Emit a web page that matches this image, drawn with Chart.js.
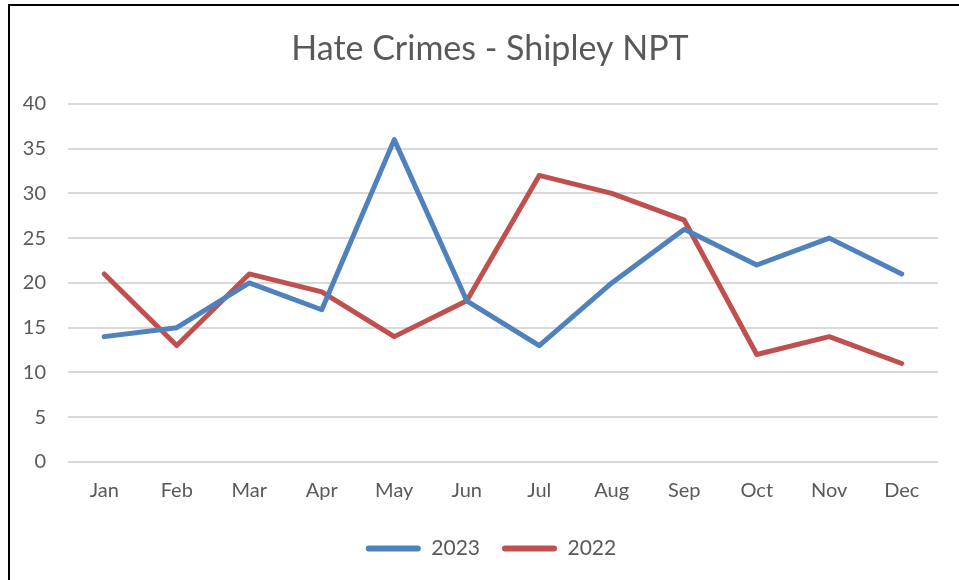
<!DOCTYPE html>
<html>
<head>
<meta charset="utf-8">
<script src="https://cdn.jsdelivr.net/npm/chart.js@4/dist/chart.umd.min.js"></script>
<style>
  html, body { margin: 0; padding: 0; background: #fff; }
  #frame { position: absolute; left: 8px; top: 4px; width: 1000px; height: 620px; border-left: 2px solid #000; border-top: 2px solid #000; }
  #wrap { position: absolute; left: 0; top: 0; width: 959px; height: 580px; }
</style>
</head>
<body>
<div id="frame"></div>
<div id="wrap"><canvas id="chart"></canvas></div>
<script>
const months = ['Jan', 'Feb', 'Mar', 'Apr', 'May', 'Jun', 'Jul', 'Aug', 'Sep', 'Oct', 'Nov', 'Dec']
const crimes2023 = [14, 15, 20, 17, 36, 18, 13, 20, 26, 22, 25, 21]
const crimes2022 = [21, 13, 21, 19, 14, 18, 32, 30, 27, 12, 14, 11]

const textColor = '#595959'
const fontFamily = 'Lato, "Open Sans", sans-serif'

function series (label, values, color) {
	return {
		label: label,
		data: values,
		borderColor: color,
		backgroundColor: color,
		borderWidth: 5,
		borderCapStyle: 'round',
		borderJoinStyle: 'round',
		pointRadius: 0,
		tension: 0
	}
}

// the frame is wider than the plot, so title and legend sit a bit right of the plot's centre
const shiftBoxes = {
	id: 'shiftBoxes',
	afterLayout (chart) {
		chart.titleBlock.left += 21
		chart.titleBlock.right += 21
		chart.legend.left += 22
		chart.legend.right += 22
		chart.legend.top -= 4
		chart.legend.bottom -= 4
	}
}

new Chart(document.getElementById('chart'), {
	type: 'line',
	data: {
		labels: months,
		datasets: [
			series('2023', crimes2023, '#4f81bd'),
			series('2022', crimes2022, '#c0504d')
		]
	},
	plugins: [shiftBoxes],
	options: {
		responsive: true,
		maintainAspectRatio: false,
		animation: false,
		layout: { padding: { left: 0, right: 21, top: 0, bottom: 7 } },
		plugins: {
			title: {
				display: true,
				text: 'Hate Crimes - Shipley NPT',
				color: textColor,
				font: { family: fontFamily, size: 34, weight: 'normal' },
				padding: { top: 29, bottom: 34 }
			},
			legend: {
				position: 'bottom',
				labels: {
					color: textColor,
					font: { family: fontFamily, size: 21 },
					boxWidth: 55,
					boxHeight: 6,
					padding: 22,
					generateLabels: function (chart) {
						return chart.data.datasets.map(function (ds, i) {
							return {
								text: ds.label,
								fillStyle: ds.borderColor,
								strokeStyle: ds.borderColor,
								lineWidth: 0,
								borderRadius: 3,
								fontColor: textColor,
								datasetIndex: i
							}
						})
					}
				}
			},
			tooltip: { enabled: false }
		},
		scales: {
			x: {
				offset: true,
				grid: { display: false, drawTicks: false },
				border: { display: false },
				ticks: { color: textColor, font: { family: fontFamily, size: 20 }, padding: 17, maxRotation: 0 }
			},
			y: {
				min: 0,
				max: 40,
				afterFit: function (scale) { scale.width = 68 },
				grid: { color: '#d9d9d9', lineWidth: 2, drawTicks: false },
				border: { display: false },
				ticks: { stepSize: 5, color: textColor, font: { family: fontFamily, size: 20 }, padding: 22 }
			}
		}
	}
})
</script>
</body>
</html>
